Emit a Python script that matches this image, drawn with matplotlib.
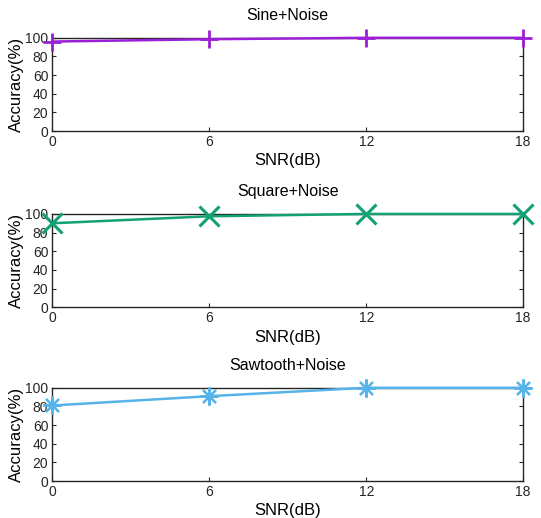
import matplotlib
matplotlib.use("Agg")
import matplotlib.pyplot as plt

plt.rcParams['font.family'] = ['Liberation Sans', 'DejaVu Sans']

snr = [0, 6, 12, 18]
sine_acc = [96, 98.5, 100, 100]
square_acc = [90, 97.5, 100, 100]
sawtooth_acc = [81, 91, 100, 100]
titles = ["Sine+Noise", "Square+Noise", "Sawtooth+Noise"]
yticks = [0, 20, 40, 60, 80, 100]

series = [sine_acc, square_acc, sawtooth_acc]
colors = ['#9B1FD6', '#12A074', '#56B4E9']
markers = ['+', 'x', (8, 2, 0)]
msizes = [13, 14, 13]
mew = [2.0, 2.2, 1.6]

fig = plt.figure(figsize=(5.41, 5.18), dpi=100)
bottoms = [0.747, 0.407, 0.0714]
for i in range(3):
    ax = fig.add_axes([0.097, bottoms[i], 0.870, 0.18])
    ax.plot(snr, series[i], color=colors[i], lw=1.8, marker=markers[i],
            markersize=msizes[i], markeredgewidth=mew[i], clip_on=False, zorder=5)
    ax.set_xlim(0, 18)
    ax.set_ylim(0, 100)
    ax.set_xticks(snr)
    ax.set_yticks(yticks)
    ax.tick_params(direction='in', top=False, right=True, length=3, width=0.8,
                   labelsize=10, colors='#262626', pad=3)
    for s in ax.spines.values():
        s.set_color('#262626')
        s.set_linewidth(1.0)
    ax.set_title(titles[i], fontsize=11.5, pad=13)
    ax.set_xlabel("SNR(dB)", fontsize=12, labelpad=3)
    ax.set_ylabel("Accuracy(%)", fontsize=12, labelpad=1)

fig.savefig("out.png", dpi=100)
